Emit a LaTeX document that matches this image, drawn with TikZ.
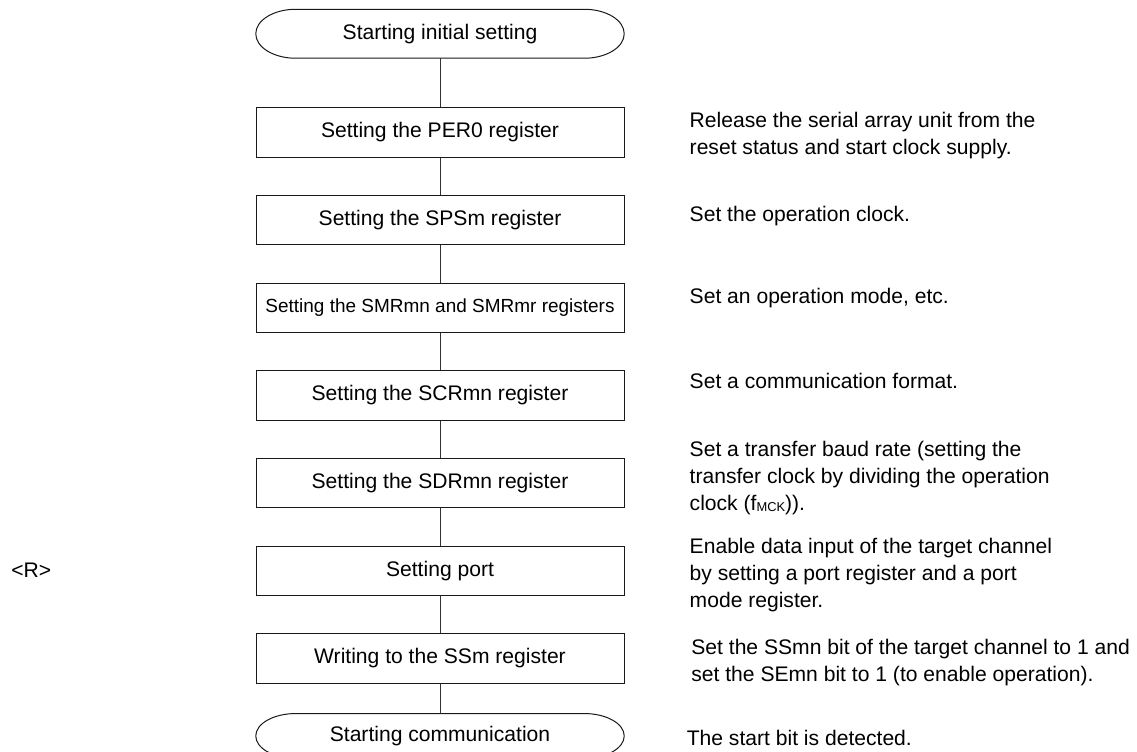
\documentclass[tikz,border=0pt]{standalone}
\usepackage{fontspec}
\setmainfont{Liberation Sans}
\usetikzlibrary{calc,positioning}
\tikzset{
  stepbox/.style={draw=black!90, line width=0.85pt, minimum width=11.04cm, minimum height=1.48cm, inner sep=0pt, align=center, font=\fontsize{18}{23}\selectfont},
  term/.style={minimum width=11.04cm, inner sep=0pt, align=center, font=\fontsize{18}{23}\selectfont},
  note/.style={anchor=west, align=left, inner sep=0pt, font=\fontsize{18}{23.3}\selectfont},
  link/.style={line width=0.85pt, draw=black!80}
}
% outline of a start/end terminal
\newcommand{\termoutline}[1]{%
  \draw[line width=0.85pt, black!90] let \p1=($(#1.north)-(#1.south)$) in
    ($(#1.north west)+(1.2,0)$) -- ($(#1.north east)+(-1.2,0)$)
    arc[start angle=90, end angle=-90, x radius=1.2cm, y radius=0.5*\y1]
    -- ($(#1.south west)+(1.2,0)$)
    arc[start angle=270, end angle=90, x radius=1.2cm, y radius=0.5*\y1] -- cycle;}

\begin{document}
\begin{tikzpicture}[node distance=1.12cm]
  \useasboundingbox (0,0) rectangle (34.11,-22.53);

  % flow
  \node[term, minimum height=1.455cm] (t0) at (13.2,-1.0125) {Starting initial setting};
  \node[stepbox, below=1.47cm of t0] (b1) {Setting the PER0 register};
  \node[stepbox, below=of b1] (b2) {Setting the SPSm register};
  \node[stepbox, below=of b2, font=\fontsize{16.2}{20}\selectfont] (b3) {Setting the SMRmn and SMRmr registers};
  \node[stepbox, below=of b3] (b4) {Setting the SCRmn register};
  \node[stepbox, below=of b4] (b5) {Setting the SDRmn register};
  \node[stepbox, below=of b5] (b6) {Setting port};
  \node[stepbox, below=of b6] (b7) {Writing to the SSm register};
  \node[term, minimum height=1.33cm, below=0.9cm of b7] (t1) {Starting communication};
  \termoutline{t0}
  \termoutline{t1}

  \draw[link] (t0) -- (b1);
  \draw[link] (b1) -- (b2);
  \draw[link] (b2) -- (b3);
  \draw[link] (b3) -- (b4);
  \draw[link] (b4) -- (b5);
  \draw[link] (b5) -- (b6);
  \draw[link] (b6) -- (b7);
  \draw[link] (b7) -- (t1);

  % notes
  \node[note, right=1.95cm of b1, yshift=-0.09cm] (n1) {Release the serial array unit from the\\reset status and start clock supply.};
  \node[note, right=1.95cm of b2, yshift=0.13cm] (n2) {Set the operation clock.};
  \node[note, right=1.95cm of b3, yshift=0.29cm] (n3) {Set an operation mode, etc.};
  \node[note, right=1.95cm of b4, yshift=0.42cm] (n4) {Set a communication format.};
  \node[note, right=1.95cm of b5, yshift=0.15cm] (n5) {Set a transfer baud rate (setting the\\transfer clock by dividing the operation\\clock (f\raisebox{-0.1ex}{\fontsize{11}{11}\selectfont MCK})).};
  \node[note, right=1.95cm of b6, yshift=-0.13cm] (n6) {Enable data input of the target channel\\by setting a port register and a port\\mode register.};
  \node[note, right=2.0cm of b7, yshift=-0.13cm] (n7) {Set the SSmn bit of the target channel to 1 and\\set the SEmn bit to 1 (to enable operation).};
  \node[note, right=1.87cm of t1, yshift=-0.06cm] (n8) {The start bit is detected.};

  \node[note, anchor=east, left=6.12cm of b6] (rev) {<R>};
\end{tikzpicture}
\end{document}
